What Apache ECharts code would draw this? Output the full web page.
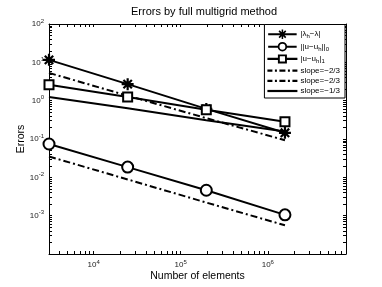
<!DOCTYPE html>
<html><head><meta charset="utf-8">
<script src="https://cdn.jsdelivr.net/npm/echarts@6/dist/echarts.min.js"></script>
<style>html,body{margin:0;padding:0;background:#fff}#c{width:382px;height:287px}</style>
</head><body><div id="c"></div>
<script>
// ---- data ----
const elements = [3072, 24576, 196608, 1572864];
const eigErr = [11.6, 2.7, 0.61, 0.145];
const l2Err = [0.074, 0.0185, 0.0046, 0.00105];
const h1Err = [2.6, 1.25, 0.58, 0.28];
const slopeA = [5.3, 1.35, 0.35, 0.093];         // slope=-2/3 (upper)
const slopeB = [0.035, 0.0088, 0.0022, 0.00056]; // slope=-2/3 (lower)
const slopeC = [1.25, 0.63, 0.31, 0.156];        // slope=-1/3
const xDecades = [1e4, 1e5, 1e6];
const yDecades = [1e-3, 1e-2, 1e-1, 1e0, 1e1, 1e2];
const legendTexts = {
  eig: '{t||λ}{sub|h}{t|−λ|}',
  l2: '{t|||u−u}{sub|h}{t|||}{sub|0}',
  h1: '{t||u−u}{sub|h}{t||}{sub|1}',
  sA: '{t|slope=−2/3}',
  sB: '{t|slope=−2/3}',
  sC: '{t|slope=−1/3}'
};

const xMin = 3072, xMax = 7.9e6, yMin = 1e-4, yMax = 100;
function minorTicks(lo, hi) {
  const out = [];
  for (let e = -5; e <= 8; e++) for (let m = 1; m <= 9; m++) {
    const v = m * Math.pow(10, e);
    if (v > lo * 1.0001 && v < hi * 0.9999) out.push(v);
  }
  return out;
}
const xTicks = minorTicks(xMin, xMax);
const yTicks = minorTicks(yMin, yMax);

const FONT = 'Liberation Sans';
const supRich = {
  b: {fontSize: 8, fontFamily: FONT, color: '#222'},
  sup: {fontSize: 6, fontFamily: FONT, color: '#222', padding: [0, 0, 6, 0]}
};
function expFmt(v) {
  const e = Math.round(Math.log10(v));
  return '{b|10}{sup|' + e + '}';
}
const pts = arr => elements.map((x, i) => [x, arr[i]]);

// ---- legend icon geometry (30 x 10 box) ----
const R = (x0, x1, y0, y1) => `M${x0} ${y0}L${x1} ${y0}L${x1} ${y1}L${x0} ${y1}Z`;
const P = a => 'M' + a.map(p => p.join(' ')).join('L') + 'Z';
const iconStar = 'path://' + R(0, 30, 3.9, 6.1) + R(14.2, 15.8, 0, 10) +
  P([[12.1, 0.9], [19.1, 7.9], [17.9, 9.1], [10.9, 2.1]]) +
  P([[10.9, 7.9], [17.9, 0.9], [19.1, 2.1], [12.1, 9.1]]);
const iconCircle = 'path://' + R(0, 10.2, 3.9, 6.1) + R(19.8, 30, 3.9, 6.1) +
  'M20 5A5 5 0 1 1 10 5A5 5 0 1 1 20 5Z' +
  'M18.1 5A3.1 3.1 0 1 0 11.9 5A3.1 3.1 0 1 0 18.1 5Z';
const iconSquare = 'path://' + R(0, 10.5, 3.9, 6.1) + R(19.5, 30, 3.9, 6.1) +
  'M10.5 0.5L19.5 0.5L19.5 9.5L10.5 9.5Z' + 'M12.4 2.4L12.4 7.6L17.6 7.6L17.6 2.4Z';
const iconDashDot = 'path://' + R(0, 5, 3.9, 6.1) + R(7.5, 9.5, 3.9, 6.1) + R(12, 18, 3.9, 6.1) +
  R(20.5, 22.5, 3.9, 6.1) + R(25, 30, 3.9, 6.1);
const iconSolid = 'path://' + R(0, 30, 3.9, 6.1);

const asterisk = 'path://M5 0L5 10M0 5L10 5M1.5 1.5L8.5 8.5M1.5 8.5L8.5 1.5';
const solid = {color: '#000', width: 2, type: 'solid'};
const dashdot = {color: '#000', width: 2, type: [7, 3, 2, 3]};

function axisCommon(extra) {
  return Object.assign({
    type: 'log', logBase: 10,
    axisLine: {show: true, lineStyle: {color: '#000', width: 1}},
    splitLine: {show: false},
    minorTick: {show: false},
    nameMoveOverlap: false
  }, extra);
}

const chart = echarts.init(document.getElementById('c'), null, {renderer: 'canvas'});
chart.setOption({
  animation: false,
  backgroundColor: '#fff',
  title: {
    text: 'Errors by full multigrid method',
    left: 126, top: 1,
    textStyle: {fontSize: 11, fontWeight: 'normal', fontFamily: FONT, color: '#000'}
  },
  grid: {left: 49, right: 36, top: 24, bottom: 32, containLabel: false},
  xAxis: [
    axisCommon({
      position: 'bottom', min: xMin, max: xMax,
      name: 'Number of elements', nameLocation: 'middle', nameGap: 17,
      nameTextStyle: {fontSize: 10.5, fontFamily: FONT, color: '#000'},
      axisTick: {show: true, inside: true, length: 3, customValues: xTicks, lineStyle: {color: '#000'}},
      axisLabel: {show: true, customValues: xDecades, formatter: expFmt, rich: supRich, margin: 5}
    }),
    axisCommon({
      position: 'top', min: xMin, max: xMax,
      axisTick: {show: true, inside: true, length: 3, customValues: xTicks, lineStyle: {color: '#000'}},
      axisLabel: {show: false}
    })
  ],
  yAxis: [
    axisCommon({
      position: 'left', min: yMin, max: yMax,
      name: 'Errors', nameLocation: 'middle', nameGap: 22,
      nameTextStyle: {fontSize: 10.5, fontFamily: FONT, color: '#000'},
      axisTick: {show: true, inside: true, length: 3, customValues: yTicks, lineStyle: {color: '#000'}},
      axisLabel: {show: true, customValues: yDecades, formatter: expFmt, rich: supRich, margin: 5}
    }),
    axisCommon({
      position: 'right', min: yMin, max: yMax,
      axisTick: {show: true, inside: true, length: 3, customValues: yTicks, lineStyle: {color: '#000'}},
      axisLabel: {show: false}
    })
  ],
  legend: {
    orient: 'vertical', right: 37, top: 24.5,
    backgroundColor: '#fff', borderColor: '#000', borderWidth: 1,
    padding: [5, 5, 3, 3], itemGap: 2.2, itemWidth: 30, itemHeight: 9.5,
    itemStyle: {color: '#000', borderWidth: 0},
    data: [
      {name: 'eig', icon: iconStar},
      {name: 'l2', icon: iconCircle},
      {name: 'h1', icon: iconSquare},
      {name: 'sA', icon: iconDashDot},
      {name: 'sB', icon: iconDashDot},
      {name: 'sC', icon: iconSolid}
    ],
    formatter: n => legendTexts[n],
    textStyle: {
      fontSize: 8, fontFamily: FONT, color: '#000', padding: [0, 0, 0, -2],
      rich: {
        t: {fontSize: 8, fontFamily: FONT, color: '#000'},
        sub: {fontSize: 6, fontFamily: FONT, color: '#000', padding: [5, 0, 0, 0]}
      }
    }
  },
  series: [
    {name: 'eig', type: 'line', data: pts(eigErr), symbol: asterisk, symbolSize: 12,
     lineStyle: solid, itemStyle: {color: '#000', borderColor: '#000', borderWidth: 2.2}, z: 5},
    {name: 'l2', type: 'line', data: pts(l2Err), symbol: 'emptyCircle', symbolSize: 11,
     lineStyle: solid, itemStyle: {color: '#000', borderColor: '#000', borderWidth: 2}, z: 5},
    {name: 'h1', type: 'line', data: pts(h1Err), symbol: 'emptyRect', symbolSize: 9,
     lineStyle: solid, itemStyle: {color: '#000', borderColor: '#000', borderWidth: 2}, z: 5},
    {name: 'sA', type: 'line', data: pts(slopeA), symbol: 'none', lineStyle: dashdot, itemStyle: {color: '#000'}},
    {name: 'sB', type: 'line', data: pts(slopeB), symbol: 'none', lineStyle: dashdot, itemStyle: {color: '#000'}},
    {name: 'sC', type: 'line', data: pts(slopeC), symbol: 'none', lineStyle: solid, itemStyle: {color: '#000'}}
  ]
});
</script></body></html>
